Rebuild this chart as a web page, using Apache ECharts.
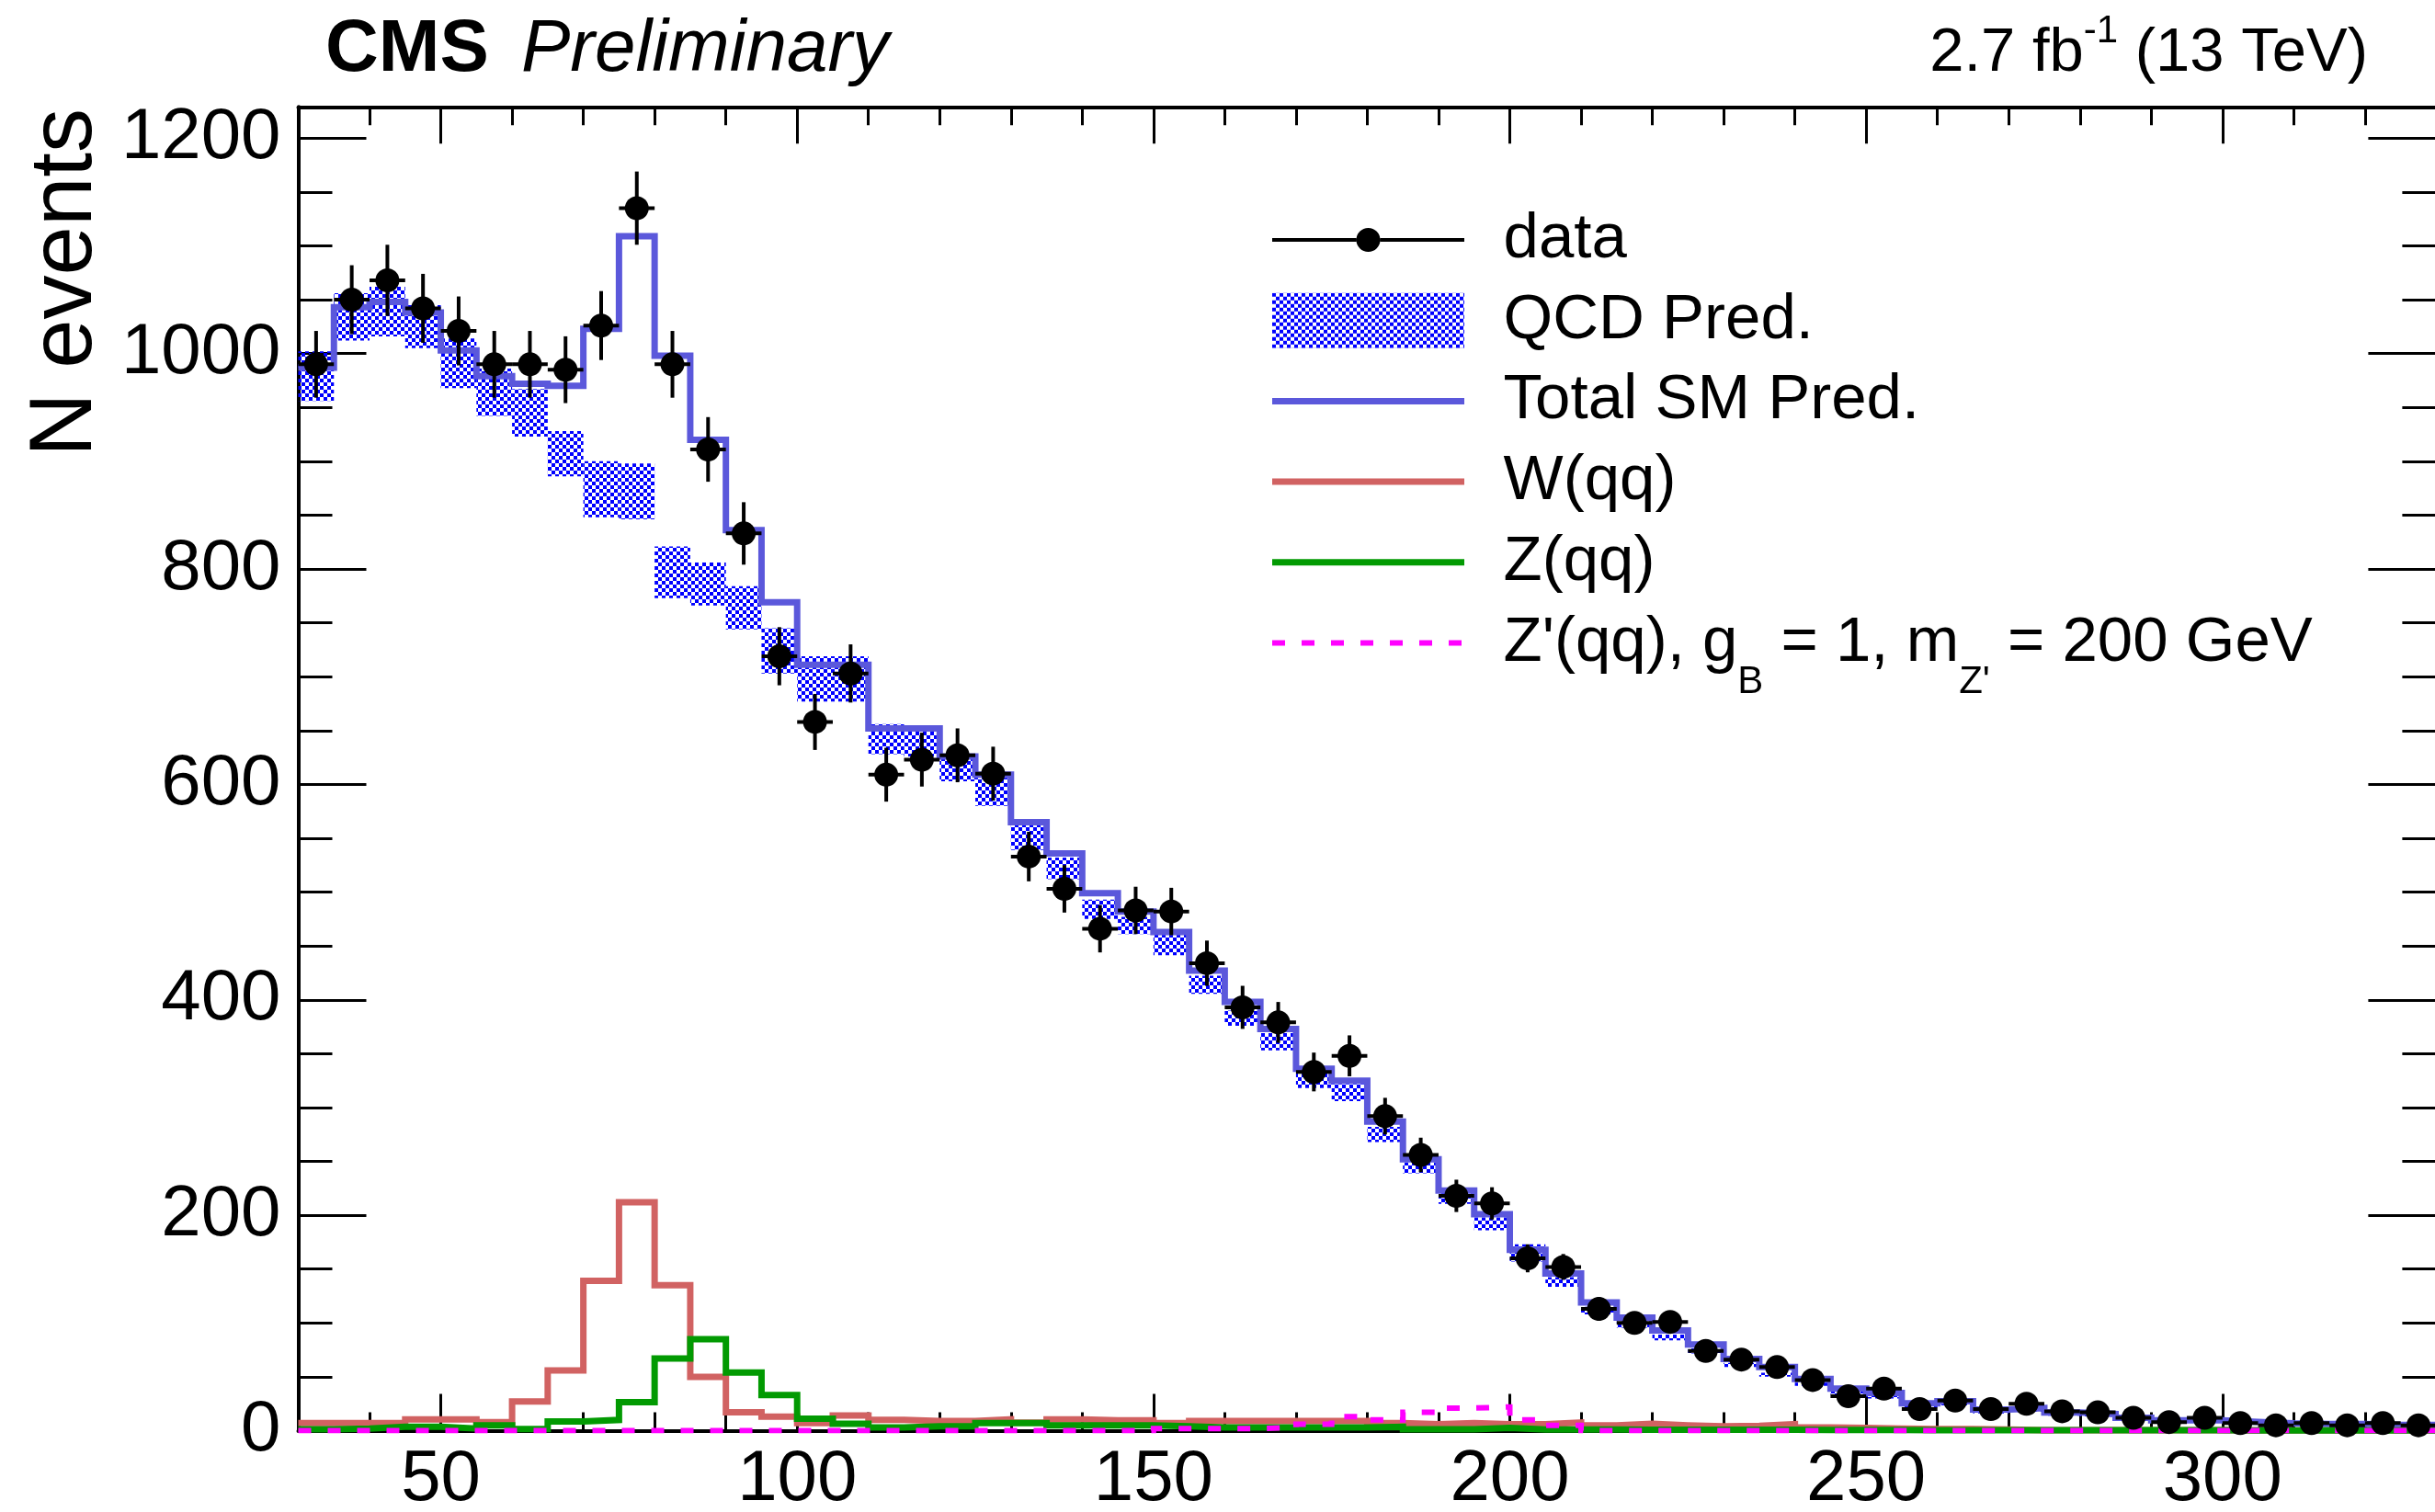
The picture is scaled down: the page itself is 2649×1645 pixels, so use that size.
<!DOCTYPE html>
<html><head><meta charset="utf-8">
<script src="https://cdn.jsdelivr.net/npm/echarts@6/dist/echarts.min.js"></script>
<style>html,body{margin:0;padding:0;background:#fff}#c{width:2649px;height:1645px}</style>
</head><body><div id="c"></div>
<script>
// ---------------- data ----------------
const binEdges = [30,35,40,45,50,55,60,65,70,75,80,85,90,95,100,105,110,115,120,125,130,135,140,145,150,155,160,165,170,175,180,185,190,195,200,205,210,215,220,225,230,235,240,245,250,255,260,265,270,275,280,285,290,295,300,305,310,315,320,325,330];
const dataCounts = [990,1050,1068,1042,1021,990,990,985,1026,1135,990,911,833,719,658,703,609,623,627,610,533,503,466,483,482,434,393,379,333,348,292,256,218,211,160,152,113,100,101,74,66,59,47,32,39,20,28,20,25,18,17,12,8,12,7,5,7,5,7,5];
const dataErrors = [31,32,33,32,32,31,31,31,32,34,31,30,29,27,26,27,25,25,25,25,23,22,22,22,22,21,20,19,18,19,17,16,15,15,13,12,11,10,10,9,8,8,7,6,6,4.5,5.3,4.5,5,4.2,4.1,3.5,2.8,3.5,2.6,2.2,2.6,2.2,2.6,2.2];
const totalSM = [987,1043,1048,1038,1003,979,972,970,1023,1109,998,920,836,769,711,711,652,652,626,609,565,536,499,482,463,427,398,373,336,325,287,252,223,201,168,146,119,105,93,80,66.5,59,48,39,35,25.3,27.3,19.6,21,16.8,15.4,11.9,9.7,9.7,8.2,6.8,6.2,6.2,5.3,5.3];
const qcdPred = [979,1034,1039,1025,991,964,945,907,874,872,797,786,764,724,698,698,642,640,615,593,551,522,484,469,451,414,383,361,325,314,275,244,218,192,165,138,111.5,98.5,86.5,74,61,52,43,35,31,22.3,24.3,16.6,18,14.3,13.7,10.2,8.2,8.2,6.7,5.8,5.2,5.2,4.3,4.3];
const qcdUnc = [23,22,23,20,23,22,22,21,26,26,24,20,20,21,21,21,14,14,12,13,12,10,9,8,9.5,8.5,7,8,7,8,7,5,7.5,6,8,4.5,3.5,3,2.7,2.3,2,1.8,1.5,1.2,1.1,0.8,0.8,0.6,0.6,0.5,0.5,0.4,0.35,0.35,0.3,0.3,0.3,0.3,0.25,0.25];
const wqq = [7,7,7,10.5,10.5,8,27,56,139,212,135,50,17,13,7,14,10,9,9,10.5,7.5,10.5,9.5,9.5,7,9,9,9,9,9,7,6,7,6,6,7.5,5,6.5,5,4,4.5,6,3,2.5,2,1.5,1.5,1,0.5,0.5,0.5,0.5,0.5,0.5,0.3,0.3,0.3,0.3,0.3,0.3];
const zqq = [1.2,2,3.7,3.7,2,5,1.5,8.5,10,26.5,67,85,54,33,11,6.5,3,4,4,7,7,5,5,5,4,3,3,3,3,3,3.5,1.3,1.3,2.5,1,1,1,0.8,0.8,0.8,0.8,0.8,0.6,0.6,0.6,0.5,0.5,0.5,0.5,0.5,0.4,0.4,0.4,0.4,0.3,0.3,0.3,0.3,0.3,0.3];
const zprime = [0,0,0,0,0,0,0,0,0,0,0,0,0,0,0,0,0,0,0,0,0,0,0,0,2,2,2,3,6,13,10,17,21,22,10,5,0,0,0,0,0,0,0,0,0,0,0,0,0,0,0,0,0,0,0,0,0,0,0,0];
const xMajorTicks = [50,100,150,200,250,300];
const yMax = 1229;
const seriesNames = ['data','QCD Pred.','Total SM Pred.','W(qq)','Z(qq)',"Z'(qq), g_B = 1, m_Z' = 200 GeV"];

// ---------------- helpers ----------------
const FONT = '"Liberation Sans", Arial, Helvetica, sans-serif';
function stepData(vals){ const d = vals.map((v,i)=>[binEdges[i], v]); d.push([binEdges[vals.length], vals[vals.length-1]]); return d; }
const pointData = dataCounts.map((v,i)=>[(binEdges[i]+binEdges[i+1])/2, v, dataErrors[i], (binEdges[i+1]-binEdges[i])/2]);
const bandData = qcdPred.map((v,i)=>[binEdges[i], binEdges[i+1], v - qcdUnc[i], v + qcdUnc[i]]);

const pc = document.createElement('canvas'); pc.width = 8; pc.height = 8;
const g = pc.getContext('2d'); g.fillStyle = '#0000ff'; g.fillRect(0,0,4,4); g.fillRect(4,4,4,4);
const qcdPattern = {image: pc, repeat: 'repeat'};

const C_BLUE = '#5b58db', C_RED = '#d16262', C_GREEN = '#029a02', C_MAG = '#ff00ff';

const LW = 246.6, LH = 60;
const anchors = `M0,0 L0.01,0 L0,0.01 Z M${LW},${LH} L${LW-0.01},${LH} L${LW},${LH-0.01} Z `;
const iconData = 'path://' + anchors + 'M0,28 L91.5,28 L91.5,32 L0,32 Z M117.5,28 L209,28 L209,32 L117.5,32 Z M91.5,30 A13,13 0 1 1 117.5,30 A13,13 0 1 1 91.5,30 Z';
const iconBox = 'path://' + anchors + 'M0,0 L209,0 L209,60 L0,60 Z';
const iconLine = 'path://' + anchors + 'M0,26.5 L209,26.5 L209,33.5 L0,33.5 Z';
let dashP = ''; for (let x = 0; x < 209; x += 32) dashP += `M${x},27 L${x+14},27 L${x+14},33 L${x},33 Z `;
const iconDash = 'path://' + anchors + dashP;

const tickStyle = {color:'#000', width:3};
const lineAxis = {show:true, onZero:false, lineStyle:{color:'#000', width:4}};
const noLine = {show:false, onZero:false};
const labelStyle = {color:'#000', fontFamily:FONT, fontSize:78, formatter:function(v){ return String(v); }};

const chart = echarts.init(document.getElementById('c'), null, {width:2649, height:1645, renderer:'canvas'});
chart.setOption({
  animation:false,
  backgroundColor:'#ffffff',
  grid:{left:324.5, top:116.3, width:2325.9, height:1440.2, containLabel:false, outerBoundsMode:'none'},
  xAxis:[
    {type:'value', position:'bottom', min:30, max:330, interval:10, axisLine:lineAxis,
     axisTick:{show:true, inside:true, length:20, lineStyle:tickStyle},
     axisLabel:Object.assign({show:true, customValues:xMajorTicks, margin:15}, labelStyle), splitLine:{show:false}},
    {type:'value', position:'bottom', min:30, max:330, axisLine:noLine,
     axisTick:{show:true, inside:true, length:40, customValues:xMajorTicks, lineStyle:tickStyle},
     axisLabel:{show:false}, splitLine:{show:false}},
    {type:'value', position:'top', min:30, max:330, interval:10, axisLine:lineAxis,
     axisTick:{show:true, inside:true, length:20, lineStyle:tickStyle},
     axisLabel:{show:false}, splitLine:{show:false}},
    {type:'value', position:'top', min:30, max:330, axisLine:noLine,
     axisTick:{show:true, inside:true, length:40, customValues:xMajorTicks, lineStyle:tickStyle},
     axisLabel:{show:false}, splitLine:{show:false}}
  ],
  yAxis:[
    {type:'value', position:'left', min:0, max:yMax, interval:200, axisLine:lineAxis,
     axisTick:{show:true, inside:true, length:74, lineStyle:tickStyle},
     axisLabel:Object.assign({show:true, margin:19, showMaxLabel:false}, labelStyle), splitLine:{show:false}},
    {type:'value', position:'left', min:0, max:yMax, interval:50, axisLine:noLine,
     axisTick:{show:true, inside:true, length:37, lineStyle:tickStyle},
     axisLabel:{show:false}, splitLine:{show:false}},
    {type:'value', position:'right', min:0, max:yMax, interval:200, axisLine:lineAxis,
     axisTick:{show:true, inside:true, length:74, lineStyle:tickStyle},
     axisLabel:{show:false}, splitLine:{show:false}},
    {type:'value', position:'right', min:0, max:yMax, interval:50, axisLine:noLine,
     axisTick:{show:true, inside:true, length:37, lineStyle:tickStyle},
     axisLabel:{show:false}, splitLine:{show:false}}
  ],
  legend:{
    orient:'vertical', left:1384, top:197, padding:0, itemGap:-40.3,
    itemWidth:LW, itemHeight:LH, selectedMode:false,
    itemStyle:{borderWidth:0},
    data:[
      {name:seriesNames[0], icon:iconData, itemStyle:{color:'#000'}},
      {name:seriesNames[1], icon:iconBox, itemStyle:{color:qcdPattern}},
      {name:seriesNames[2], icon:iconLine, itemStyle:{color:C_BLUE}},
      {name:seriesNames[3], icon:iconLine, itemStyle:{color:C_RED}},
      {name:seriesNames[4], icon:iconLine, itemStyle:{color:C_GREEN}},
      {name:seriesNames[5], icon:iconDash, itemStyle:{color:C_MAG}}
    ],
    formatter:function(n){ return n === seriesNames[5] ? "Z'(qq), g{sb|B} = 1, m{sb|Z'} = 200 GeV" : n; },
    textStyle:{fontFamily:FONT, fontSize:69, color:'#000', lineHeight:128,
      rich:{sb:{fontFamily:FONT, fontSize:42, lineHeight:42, verticalAlign:'bottom', color:'#000'}}}
  },
  graphic:[
    {type:'text', x:354, y:55, style:{text:'CMS', fontFamily:FONT, fontSize:80, fontWeight:'bold', fill:'#000', align:'left', verticalAlign:'middle'}},
    {type:'text', x:567, y:55, style:{text:'Preliminary', fontFamily:FONT, fontSize:80, fontStyle:'italic', fill:'#000', align:'left', verticalAlign:'middle'}},
    {type:'text', x:2576, y:59, style:{text:'2.7 fb{sup|-1} (13 TeV)', fontFamily:FONT, fontSize:67, lineHeight:92, fill:'#000', align:'right', verticalAlign:'middle',
      rich:{sup:{fontFamily:FONT, fontSize:42, lineHeight:42, verticalAlign:'top', fill:'#000', color:'#000'}}}},
    {type:'text', x:73, y:118, rotation:Math.PI/2, style:{text:'N events', fontFamily:FONT, fontSize:96, fill:'#000', align:'right', verticalAlign:'middle'}}
  ],
  series:[
    {name:seriesNames[1], type:'custom', xAxisIndex:0, yAxisIndex:0, data:bandData, encode:{x:[0,1], y:[2,3]},
     itemStyle:{color:qcdPattern}, z:1, silent:true,
     renderItem:function(params, api){
       const p0 = api.coord([api.value(0), api.value(3)]);
       const p1 = api.coord([api.value(1), api.value(2)]);
       return {type:'rect', shape:{x:p0[0], y:p0[1], width:p1[0]-p0[0], height:p1[1]-p0[1]}, style:{fill:qcdPattern}};
     }},
    {name:seriesNames[2], type:'line', xAxisIndex:0, yAxisIndex:0, data:stepData(totalSM), step:'end', symbol:'none', z:2,
     color:C_BLUE, lineStyle:{color:C_BLUE, width:7, join:'miter'}, silent:true},
    {name:seriesNames[3], type:'line', xAxisIndex:0, yAxisIndex:0, data:stepData(wqq), step:'end', symbol:'none', z:2,
     color:C_RED, lineStyle:{color:C_RED, width:7, join:'miter'}, silent:true},
    {name:seriesNames[4], type:'line', xAxisIndex:0, yAxisIndex:0, data:stepData(zqq), step:'end', symbol:'none', z:2,
     color:C_GREEN, lineStyle:{color:C_GREEN, width:7, join:'miter'}, silent:true},
    {name:seriesNames[5], type:'line', xAxisIndex:0, yAxisIndex:0, data:stepData(zprime), step:'end', symbol:'none', z:2,
     color:C_MAG, lineStyle:{color:C_MAG, width:6, type:[14,18], cap:'butt', join:'miter'}, silent:true},
    {name:seriesNames[0], type:'custom', xAxisIndex:0, yAxisIndex:0, data:pointData, encode:{x:0, y:1},
     itemStyle:{color:'#000'}, z:3, silent:true,
     renderItem:function(params, api){
       const x = api.value(0), y = api.value(1), e = api.value(2), hw = api.value(3);
       const c = api.coord([x, y]);
       const t = api.coord([x, y + e]);
       const b = api.coord([x, y - e]);
       const l = api.coord([x - hw, y]);
       const r = api.coord([x + hw, y]);
       return {type:'group', children:[
         {type:'line', shape:{x1:c[0], y1:t[1], x2:c[0], y2:b[1]}, style:{stroke:'#000', lineWidth:4}},
         {type:'line', shape:{x1:l[0], y1:c[1], x2:r[0], y2:c[1]}, style:{stroke:'#000', lineWidth:4}},
         {type:'circle', shape:{cx:c[0], cy:c[1], r:13}, style:{fill:'#000'}}
       ]};
     }}
  ]
});
</script></body></html>
